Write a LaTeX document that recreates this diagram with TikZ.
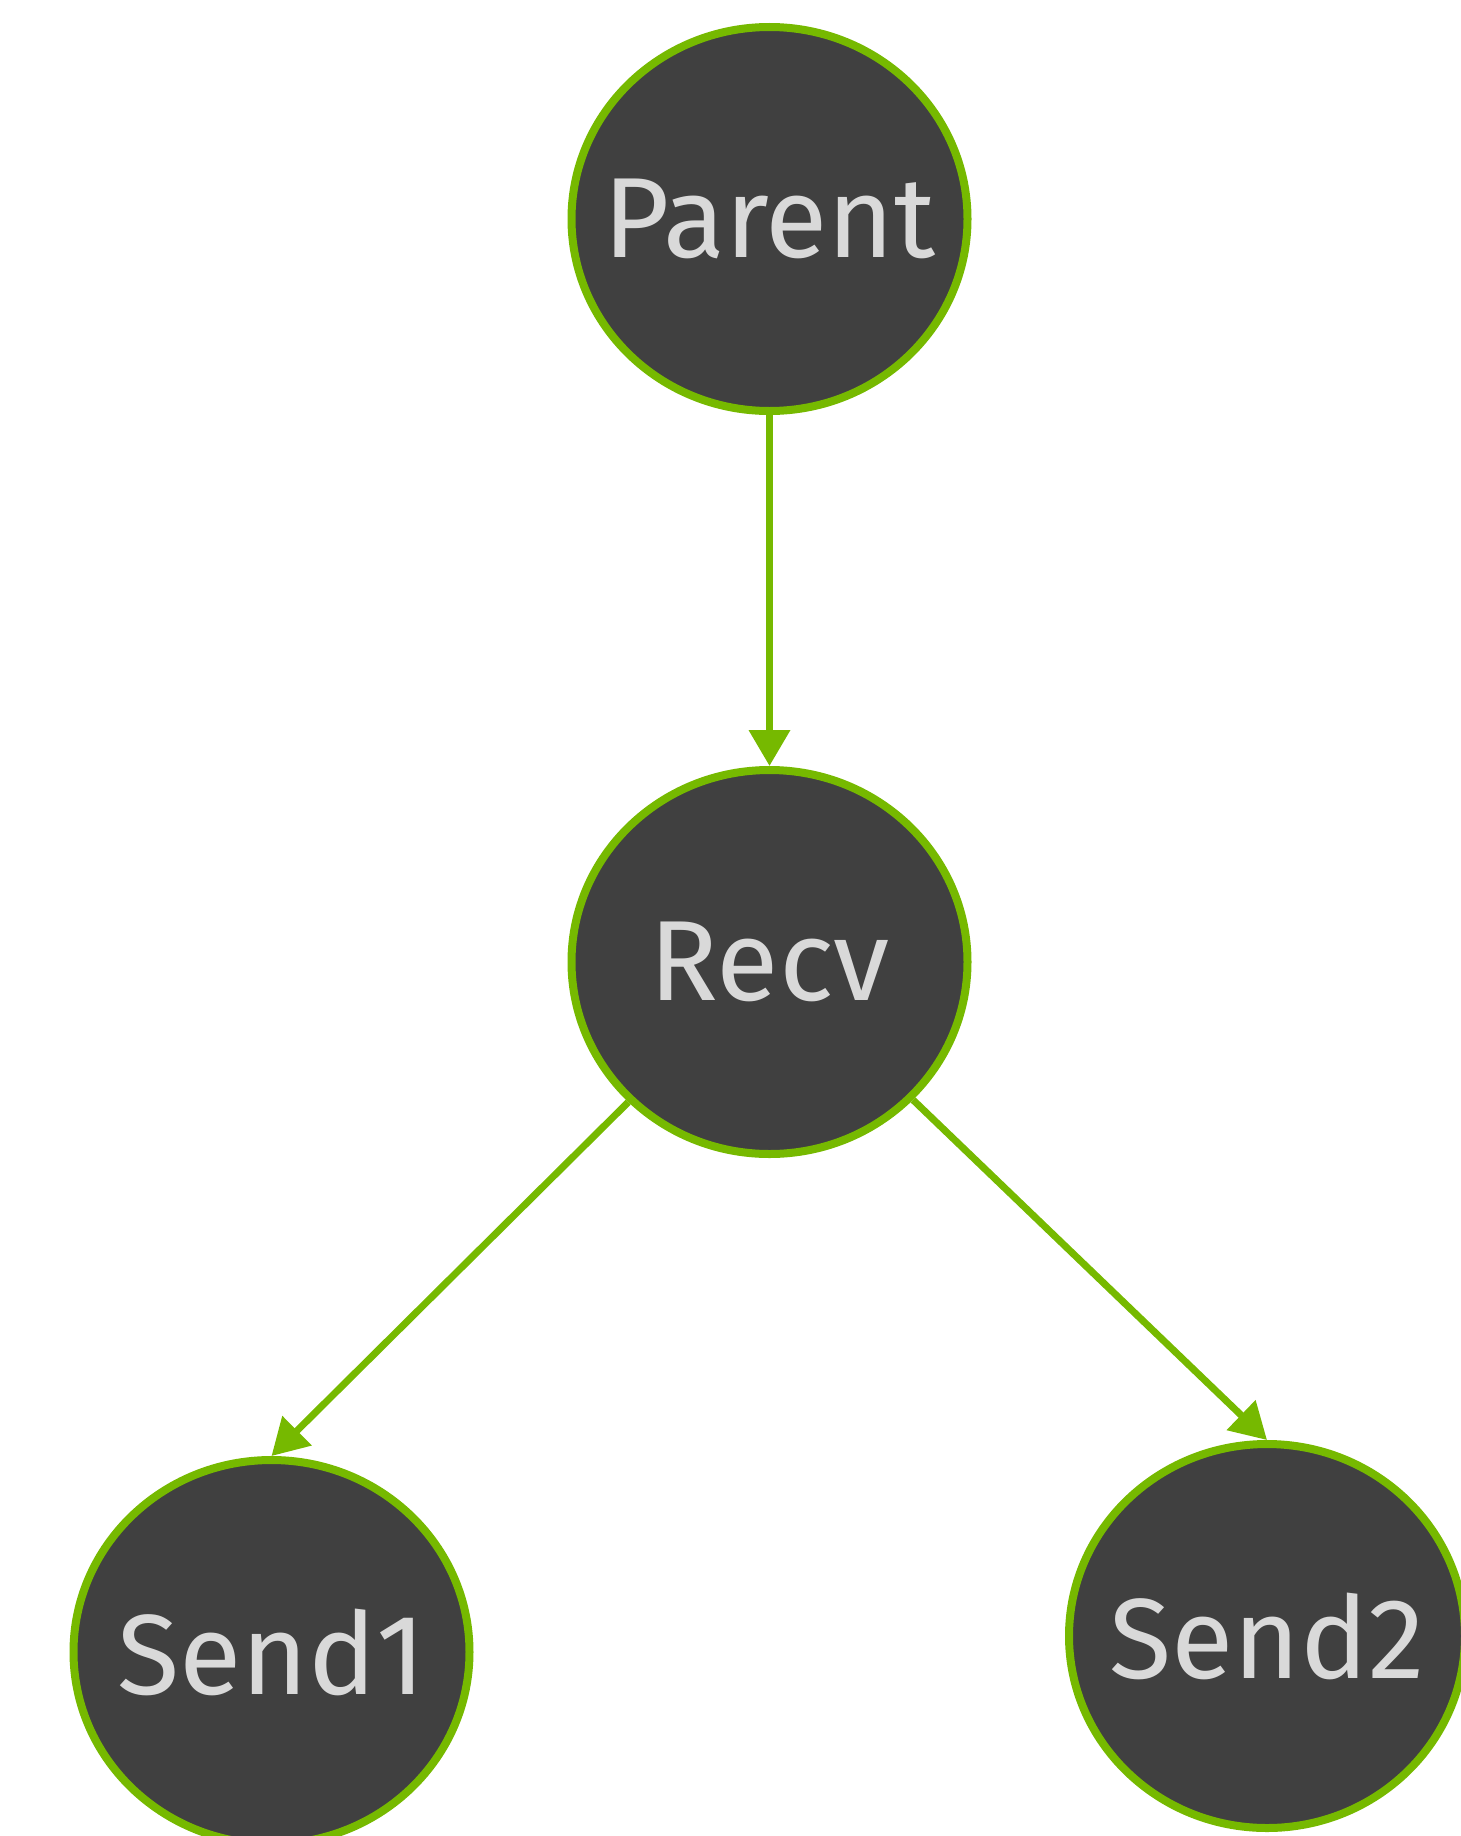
\documentclass[tikz,border=0pt]{standalone}
\usepackage{fontspec}
\setmainfont{Fira Sans}
\usepackage{tikz}
\usetikzlibrary{arrows.meta,shapes.geometric}

\definecolor{nvgreen}{HTML}{76B900}
\definecolor{nodegray}{HTML}{404040}
\definecolor{textgray}{HTML}{D9D9D9}

\newcommand{\proctext}[1]{\makebox[0pt]{#1}}

\begin{document}
\begin{tikzpicture}[x=1pt, y=-1pt,
    proc/.style={ellipse, draw=nvgreen, line width=8pt, fill=nodegray, text=textgray,
      minimum width=396pt, minimum height=384pt, inner sep=0pt,
      font=\fontsize{114}{120}\selectfont},
    link/.style={draw=nvgreen, line width=7pt, -{Triangle[length=36pt,width=40pt]}}]
	  \useasboundingbox (0,0) rectangle (1460,1836);
	  \node[proc] (parent) at (769.5,219) {\proctext{Parent}};
	  \node[proc] (recv) at (769.5,962) {\proctext{Recv}};
	  \node[proc] (send1) at (271.5,1652) {\proctext{Send1}};
	  \node[proc] (send2) at (1267,1636) {\proctext{Send2}};
	  \draw[link] (parent) -- (recv);
	  \foreach \s in {send1,send2}
	    \draw[link] (recv) -- (\s.north);
	\end{tikzpicture}
\end{document}
